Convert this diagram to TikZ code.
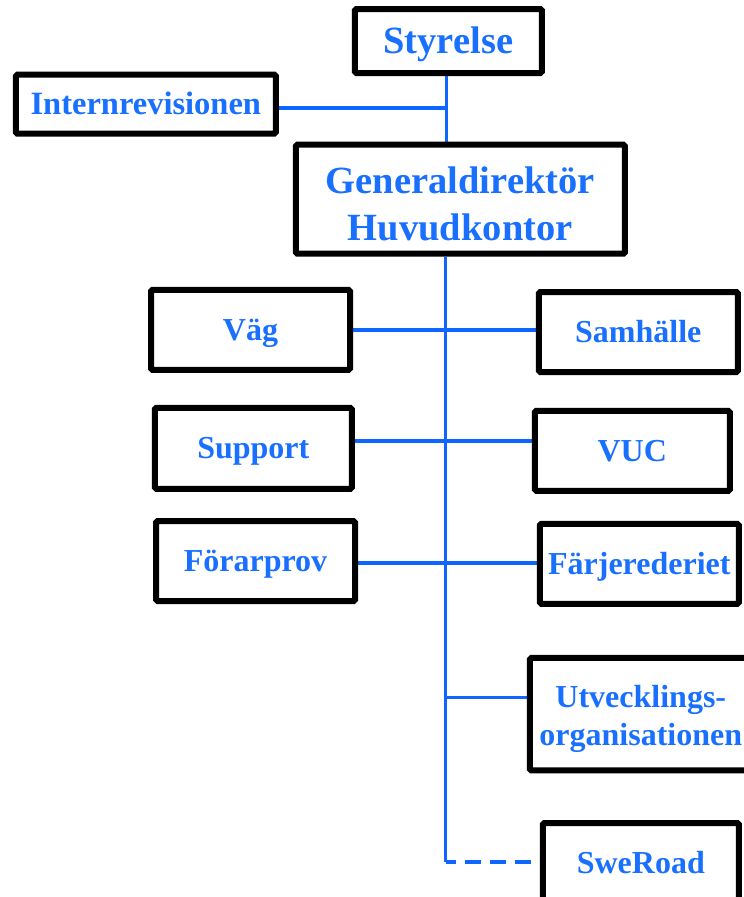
\documentclass[tikz,border=0pt]{standalone}
\usepackage{fontspec}
\setmainfont{Liberation Serif}
\usetikzlibrary{backgrounds}
\definecolor{orgtext}{RGB}{25,112,255}
\definecolor{orgline}{RGB}{12,102,255}
\newcommand{\topfont}{\fontsize{38.5}{47}\bfseries\selectfont}
\newcommand{\unitfont}{\fontsize{32}{38}\bfseries\selectfont}
\tikzset{
  unitbox/.style={draw=black, line width=6pt, rounded corners=1.5pt, fill=white,
    inner sep=0pt, text=orgtext, align=center, font=\unitfont},
  unittext/.style={inner sep=0pt, text=orgtext, align=center, font=\unitfont},
  oneline/.style={text height=21pt, text depth=0pt},
  topline/.style={text height=25.4pt, text depth=0pt},
  link/.style={draw=orgline, line width=3.5pt},
  dottedlink/.style={link, dash pattern=on 16pt off 9pt, dash phase=6pt}
}
\begin{document}
\begin{tikzpicture}[x=1pt, y=-1pt]
  \useasboundingbox (0,0) rectangle (744,897);
  \clip (0,0) rectangle (744,897);

  % trunk positions
  \coordinate (spineA) at (446.7,0);
  \coordinate (spineB) at (445.7,0);
  \coordinate (irjoin) at (446.7,108);
  \coordinate (rowtwo) at (0,441);
  \coordinate (rowthree) at (0,563);
  \coordinate (utvjoin) at (445.7,697.7);
  \coordinate (swejoin) at (445.7,862);

  % boxes
  \node[unitbox, topline, font=\topfont, minimum width=187pt, minimum height=64pt]
    (sty) at (448.3,41) {Styrelse};
  \node[unitbox, oneline, font=\fontsize{32.5}{38}\bfseries\selectfont,
    minimum width=260pt, minimum height=59pt]
    (ir) at (145.8,104.2) {Internrevisionen};
  \node[unitbox, minimum width=329pt, minimum height=109pt]
    (gd) at (460.3,199.2) {};
  \node[unittext, font=\topfont, yshift=-4.2pt] (gdtext) at (gd) {Generaldirektör\\Huvudkontor};

  \node[unitbox, oneline, minimum width=199pt, minimum height=80pt]
    (vag) at (250.5,329.8) {Väg};
  \node[unitbox, oneline, minimum width=199pt, minimum height=80pt]
    (sam) at (638.3,332) {Samhälle};
  \node[unitbox, oneline, minimum width=197pt, minimum height=81pt]
    (sup) at (253.3,448.3) {Support};
  \node[unitbox, oneline, minimum width=195pt, minimum height=80pt]
    (vuc) at (632.3,450.8) {VUC};
  \node[unitbox, oneline, minimum width=199pt, minimum height=80pt]
    (for) at (255.5,561) {Förarprov};
  \node[unitbox, oneline, minimum width=199pt, minimum height=80pt]
    (far) at (639.3,563.8) {Färjerederiet};
  \node[unitbox, minimum width=222pt, minimum height=112.5pt]
    (utv) at (640.8,714.2) {};
  \node[unittext, yshift=-4.4pt] (utvtext) at (utv) {Utvecklings-\\organisationen};
  \node[unitbox, oneline, minimum width=196pt, minimum height=80pt]
    (swe) at (640.8,863) {SweRoad};

  % connectors, kept under the boxes
  \begin{scope}[on background layer]
    \fill[white] (0,0) rectangle (744,897);
    \draw[link] (sty.south -| spineA) -- (gd.north -| spineA);
    \draw[link] (ir.east |- irjoin) -- (irjoin);
    \draw[link] (gd.south -| spineB) -- (swejoin);
    \draw[link] (vag.east) -- (sam.west |- vag.east);
    \draw[link] (sup.east |- rowtwo) -- (vuc.west |- rowtwo);
    \draw[link] (for.east |- rowthree) -- (far.west |- rowthree);
    \draw[link] (utvjoin) -- (utv.west |- utvjoin);
    \draw[dottedlink] (swejoin) -- (swe.west |- swejoin);
  \end{scope}
\end{tikzpicture}
\end{document}
